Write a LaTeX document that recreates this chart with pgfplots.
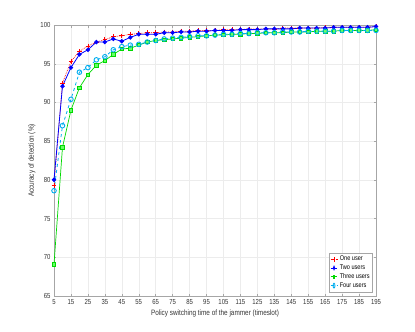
\documentclass[border=0pt]{standalone}
\usepackage{fontspec}
\setmainfont[FakeStretch=0.82]{Liberation Sans}
\usepackage{pgfplots}
\pgfplotsset{compat=1.18}
\usepackage{pgfplotstable}
\pgfplotstableread{
x one two three four
5 79.3 80.0 69.1 78.6
10 92.5 92.1 84.2 87.0
15 95.3 94.5 89.0 90.4
20 96.6 96.2 91.9 93.9
25 97.3 96.8 93.6 94.5
30 97.8 97.8 94.8 95.5
35 98.1 97.8 95.4 95.9
40 98.5 98.2 96.2 96.8
45 98.6 97.9 96.9 97.2
50 98.8 98.4 97.0 97.4
55 98.9 98.8 97.4 97.5
60 99.0 98.8 97.8 97.8
65 99.0 98.8 98.0 98.0
70 99.1 99.0 98.1 98.2
75 99.1 99.0 98.2 98.3
80 99.2 99.1 98.3 98.4
85 99.2 99.1 98.4 98.5
90 99.3 99.2 98.5 98.6
95 99.3 99.2 98.6 98.6
100 99.3 99.3 98.7 98.7
105 99.4 99.3 98.7 98.8
110 99.4 99.3 98.8 98.8
115 99.4 99.4 98.8 98.9
120 99.5 99.4 98.9 98.9
125 99.5 99.4 98.9 99.0
130 99.5 99.5 99.0 99.0
135 99.5 99.5 99.0 99.0
140 99.6 99.5 99.0 99.1
145 99.6 99.5 99.1 99.1
150 99.6 99.6 99.1 99.1
155 99.6 99.6 99.1 99.2
160 99.6 99.6 99.2 99.2
165 99.7 99.6 99.2 99.2
170 99.7 99.7 99.2 99.2
175 99.7 99.7 99.3 99.3
180 99.7 99.7 99.3 99.3
185 99.7 99.7 99.3 99.3
190 99.7 99.7 99.3 99.3
195 99.8 99.8 99.4 99.3
}\datatable
\begin{document}
\begin{tikzpicture}
\path[use as bounding box] (-54pt,-36pt) rectangle (361pt,296pt);
\begin{axis}[
  at={(0pt,0pt)}, anchor=south west,
  scale only axis, width=322pt, height=271pt,
  xmin=5, xmax=195, ymin=65, ymax=100,
  xtick={5,15,...,195}, ytick={65,70,...,100},
  grid=major, grid style={gray!15, line width=0.4pt},
  axis line style={gray!70, line width=0.5pt},
  tick style={gray!70, line width=0.4pt},
  tick align=inside, major tick length=2.5pt,
  /pgf/number format/assume math mode=true,
  ticklabel style={font=\fontsize{7.3}{8}\selectfont, text=black!80},
  label style={font=\fontsize{7.8}{9}\selectfont, text=black!80},
  xlabel={Policy switching time of the jammer (timeslot)},
  ylabel={Accuracy of detection (\%)},
  xlabel style={yshift=2pt},
  ylabel style={yshift=-2pt},
  legend style={at={(0.99,0.015)}, anchor=south east, font=\fontsize{6.8}{7.5}\selectfont,
    draw=gray!70, fill=white, inner sep=1pt, row sep=-1.5pt,
    /tikz/every even column/.append style={column sep=0pt}},
  legend cell align=left,
  legend image post style={xscale=0.4},
]
\addplot[red, densely dotted, line width=0.7pt, mark=+, mark size=2.3pt, mark options={solid}] table[x=x,y=one]{\datatable};
\addlegendentry{One user}
\addplot[blue, solid, line width=0.8pt, mark=*, mark size=1.8pt] table[x=x,y=two]{\datatable};
\addlegendentry{Two users}
\addplot[green!85!black, solid, line width=0.7pt, mark=square*, mark size=1.7pt, mark options={fill=green!60}] table[x=x,y=three]{\datatable};
\addlegendentry{Three users}
\addplot[cyan, dashed, line width=0.8pt, mark=o, mark size=2.3pt, mark options={solid, line width=0.9pt}] table[x=x,y=four]{\datatable};
\addlegendentry{Four users}
\end{axis}
\end{tikzpicture}
\end{document}
